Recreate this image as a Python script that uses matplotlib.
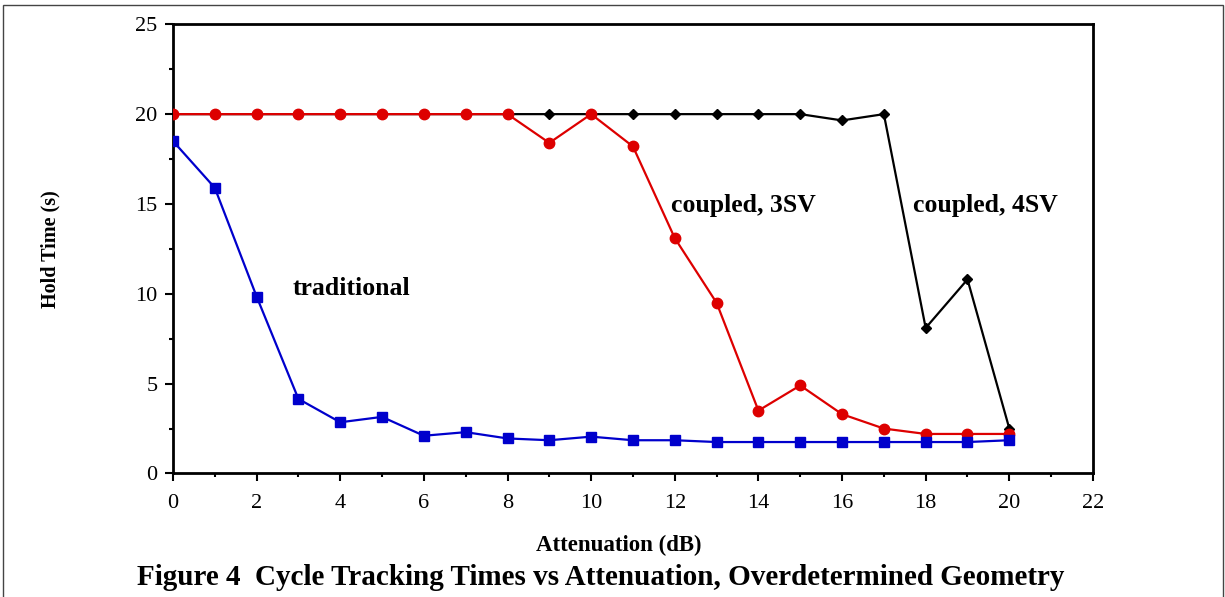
import numpy as np
import matplotlib.pyplot as plt
from matplotlib.patches import Rectangle
from matplotlib.ticker import MultipleLocator

plt.rcParams['font.family'] = ['Liberation Serif', 'DejaVu Serif']

attenuation = list(range(21))
traditional = [18.5, 15.9, 9.85, 4.15, 2.85, 3.15, 2.1, 2.3, 1.95, 1.85, 2.05,
               1.85, 1.85, 1.75, 1.75, 1.75, 1.75, 1.75, 1.75, 1.75, 1.85]
coupled_3sv = [20, 20, 20, 20, 20, 20, 20, 20, 20, 18.4, 20,
               18.2, 13.1, 9.5, 3.5, 4.9, 3.3, 2.5, 2.2, 2.2, 2.2]
coupled_4sv = [20, 20, 20, 20, 20, 20, 20, 20, 20, 20, 20,
               20, 20, 20, 20, 20, 19.65, 20, 8.1, 10.8, 2.5]

fig = plt.figure(figsize=(12.25, 5.97), dpi=100)
ax = fig.add_axes([0.1412, 0.2069, 0.7510, 0.7524])

# thin frame round the whole figure
fig.patches.append(Rectangle((0.0025, -0.05), 0.9955, 1.042, transform=fig.transFigure,
                             fill=False, edgecolor='#444444', linewidth=1.0))

ax.plot(attenuation, coupled_4sv, color='black', linewidth=1.6,
        marker='D', markersize=5, zorder=3)
ax.plot(attenuation, coupled_3sv, color='#dd0000', linewidth=1.6,
        marker='o', markersize=7.5, zorder=4)
ax.plot(attenuation, traditional, color='#0000cc', linewidth=1.6,
        marker='s', markersize=7.5, zorder=5)

ax.text(2.85, 10.3, 'traditional', fontsize=18.5, fontweight='bold', va='center')
ax.text(11.9, 14.9, 'coupled, 3SV', fontsize=18.5, fontweight='bold', va='center')
ax.text(17.7, 14.9, 'coupled, 4SV', fontsize=18.5, fontweight='bold', va='center')

ax.set_xlim(0, 22)
ax.set_ylim(0, 25)
ax.xaxis.set_major_locator(MultipleLocator(2))
ax.xaxis.set_minor_locator(MultipleLocator(1))
ax.yaxis.set_major_locator(MultipleLocator(5))
ax.yaxis.set_minor_locator(MultipleLocator(2.5))
ax.tick_params(which='major', direction='out', length=6, width=1.5, labelsize=16)
ax.tick_params(axis='x', which='major', pad=9)
ax.tick_params(axis='y', which='major', pad=5)
ax.tick_params(which='minor', direction='out', length=3, width=1.5)
for s in ax.spines.values():
    s.set_linewidth(2)

fig.text(0.505, 0.087, 'Attenuation (dB)', ha='center', va='center',
         fontsize=16.5, fontweight='bold')
fig.text(0.0416, 0.583, 'Hold Time (s)', ha='center', va='center', rotation=90,
         fontsize=14.5, fontweight='bold')

fig.text(0.49, 0.032, 'Figure 4  Cycle Tracking Times vs Attenuation, Overdetermined Geometry',
         ha='center', va='center', fontsize=21, fontweight='bold')

fig.savefig('out.png', dpi=100)
